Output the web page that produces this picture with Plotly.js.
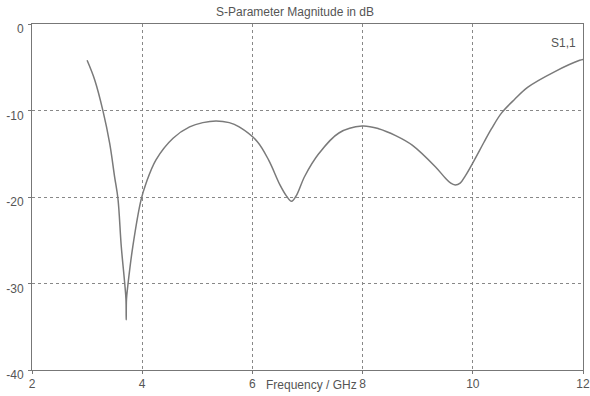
<!DOCTYPE html>
<html>
<head>
<meta charset="utf-8">
<script src="https://cdn.plot.ly/plotly-3.0.1.min.js"></script>
<style>html,body{margin:0;padding:0;background:#fff;}#chart{width:590px;height:396px;}</style>
</head>
<body>
<div id="chart"></div>
<script>
// Frequency (GHz) and S1,1 magnitude (dB)
const freqGHz = [3.0, 3.14, 3.29, 3.41, 3.50, 3.56, 3.62, 3.68, 3.705, 3.71, 3.715, 3.74, 3.83, 3.98, 4.07, 4.25, 4.56, 4.86, 5.1, 5.34, 5.58, 5.76, 6.09, 6.3, 6.5, 6.62, 6.71, 6.8, 6.95, 7.21, 7.57, 7.99, 8.29, 8.6, 8.9, 9.32, 9.5, 9.6, 9.68, 9.77, 9.87, 10.04, 10.2, 10.34, 10.52, 10.76, 11.0, 11.49, 11.94, 12.0];
const s11dB   = [-4.2, -6.5, -10.1, -13.8, -17.7, -20.2, -25.7, -29.8, -31.8, -34.2, -31.8, -30.2, -25.7, -20.3, -18.4, -15.7, -13.2, -11.9, -11.4, -11.2, -11.4, -11.9, -13.6, -15.8, -18.6, -19.9, -20.5, -19.8, -17.6, -14.95, -12.6, -11.8, -12.1, -12.9, -14.0, -16.5, -17.8, -18.4, -18.6, -18.4, -17.5, -15.6, -13.7, -12.1, -10.3, -8.7, -7.3, -5.5, -4.2, -4.1];
const xTicks = [2, 4, 6, 8, 10, 12];
const yTicks = [0, -10, -20, -30, -40];
const titleText = "S-Parameter Magnitude in dB";
const xTitleText = "Frequency / GHz";
const seriesLabel = "S1,1";

const fnt = {family: "Liberation Sans, Arial, sans-serif", size: 12, color: "#555"};

const trace = {
  x: freqGHz, y: s11dB, type: "scatter", mode: "lines",
  line: {color: "#7a7a7a", width: 1.5, shape: "spline", smoothing: 1},
  hoverinfo: "skip", showlegend: false
};

const layout = {
  width: 590, height: 396,
  margin: {l: 32, r: 7, t: 24, b: 26},
  paper_bgcolor: "#fff", plot_bgcolor: "#fff",
  font: fnt,
  title: {text: titleText, font: fnt, x: 0.5, xanchor: "center", y: 0.97, yanchor: "middle", yref: "container"},
  xaxis: {
    range: [2, 12], tickvals: xTicks, ticktext: xTicks.map(String),
    showgrid: true, gridcolor: "#888", griddash: "dot", gridwidth: 1,
    showline: true, linecolor: "#777", linewidth: 1, mirror: true,
    ticks: "outside", ticklen: 3, tickcolor: "#777", ticklabeloverflow: "allow",
    zeroline: false, tickfont: fnt, fixedrange: true
  },
  yaxis: {
    range: [-40, 0], tickvals: yTicks, ticktext: yTicks.map(String),
    showgrid: true, gridcolor: "#888", griddash: "dot", gridwidth: 1,
    showline: true, linecolor: "#777", linewidth: 1, mirror: true,
    ticks: "outside", ticklen: 3, tickcolor: "#777", ticklabeloverflow: "allow",
    zeroline: false, tickfont: fnt, ticklabelshift: 5, ticklabelstandoff: 2, fixedrange: true
  },
  annotations: [
    {text: xTitleText, xref: "x", x: 7.08, yref: "paper", y: 0, yanchor: "top", yshift: -6, showarrow: false, font: fnt},
    {text: seriesLabel, xref: "x", x: 11.65, yref: "y", y: -2.2, showarrow: false, font: fnt}
  ]
};

Plotly.newPlot("chart", [trace], layout, {displayModeBar: false, staticPlot: true});
</script>
</body>
</html>
